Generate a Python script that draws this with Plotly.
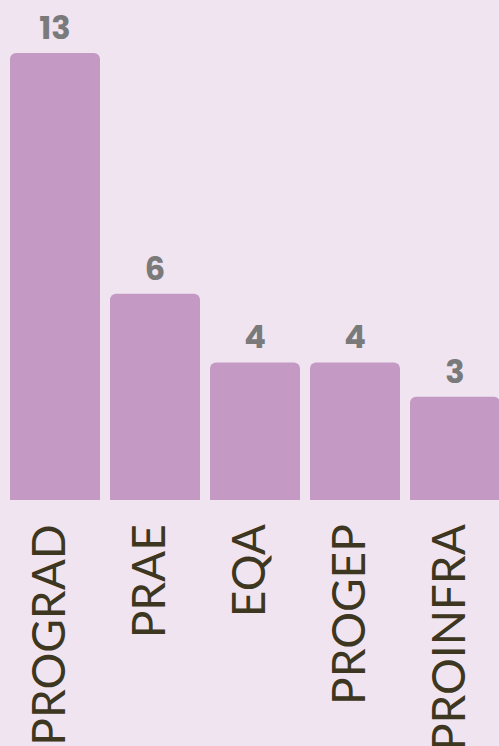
import plotly.graph_objects as go

categories = ["PROGRAD", "PRAE", "EQA", "PROGEP", "PROINFRA"]
values = [13, 6, 4, 4, 3]

fig = go.Figure(go.Bar(
    x=categories, y=values,
    marker=dict(color="#C49AC4", line=dict(width=0)),
    text=[str(v) for v in values],
    textposition="outside",
    textfont=dict(family="Poppins, Inter, sans-serif", size=32, color="#7A7A7A", weight="bold"),
    cliponaxis=False,
    width=0.9,
))
fig.update_layout(
    width=499, height=746,
    margin=dict(l=5, r=0, t=0, b=246),
    paper_bgcolor="#F0E4F0", plot_bgcolor="#F0E4F0",
    barcornerradius=6,
    showlegend=False,
    xaxis=dict(range=[-0.5, 4.44], tickangle=-90, showgrid=False, zeroline=False,
               showline=False, ticks="", ticklabelstandoff=14, ticklabelshift=-5,
               automargin=False,
               tickfont=dict(family="Lato, sans-serif", size=46, color="#3D3620")),
    yaxis=dict(range=[0, 14.54], visible=False, showgrid=False, automargin=False),
)
fig.write_html("out.html", config={"displayModeBar": False},
               post_script="document.body.style.margin='0';document.body.style.background='#F0E4F0';")
